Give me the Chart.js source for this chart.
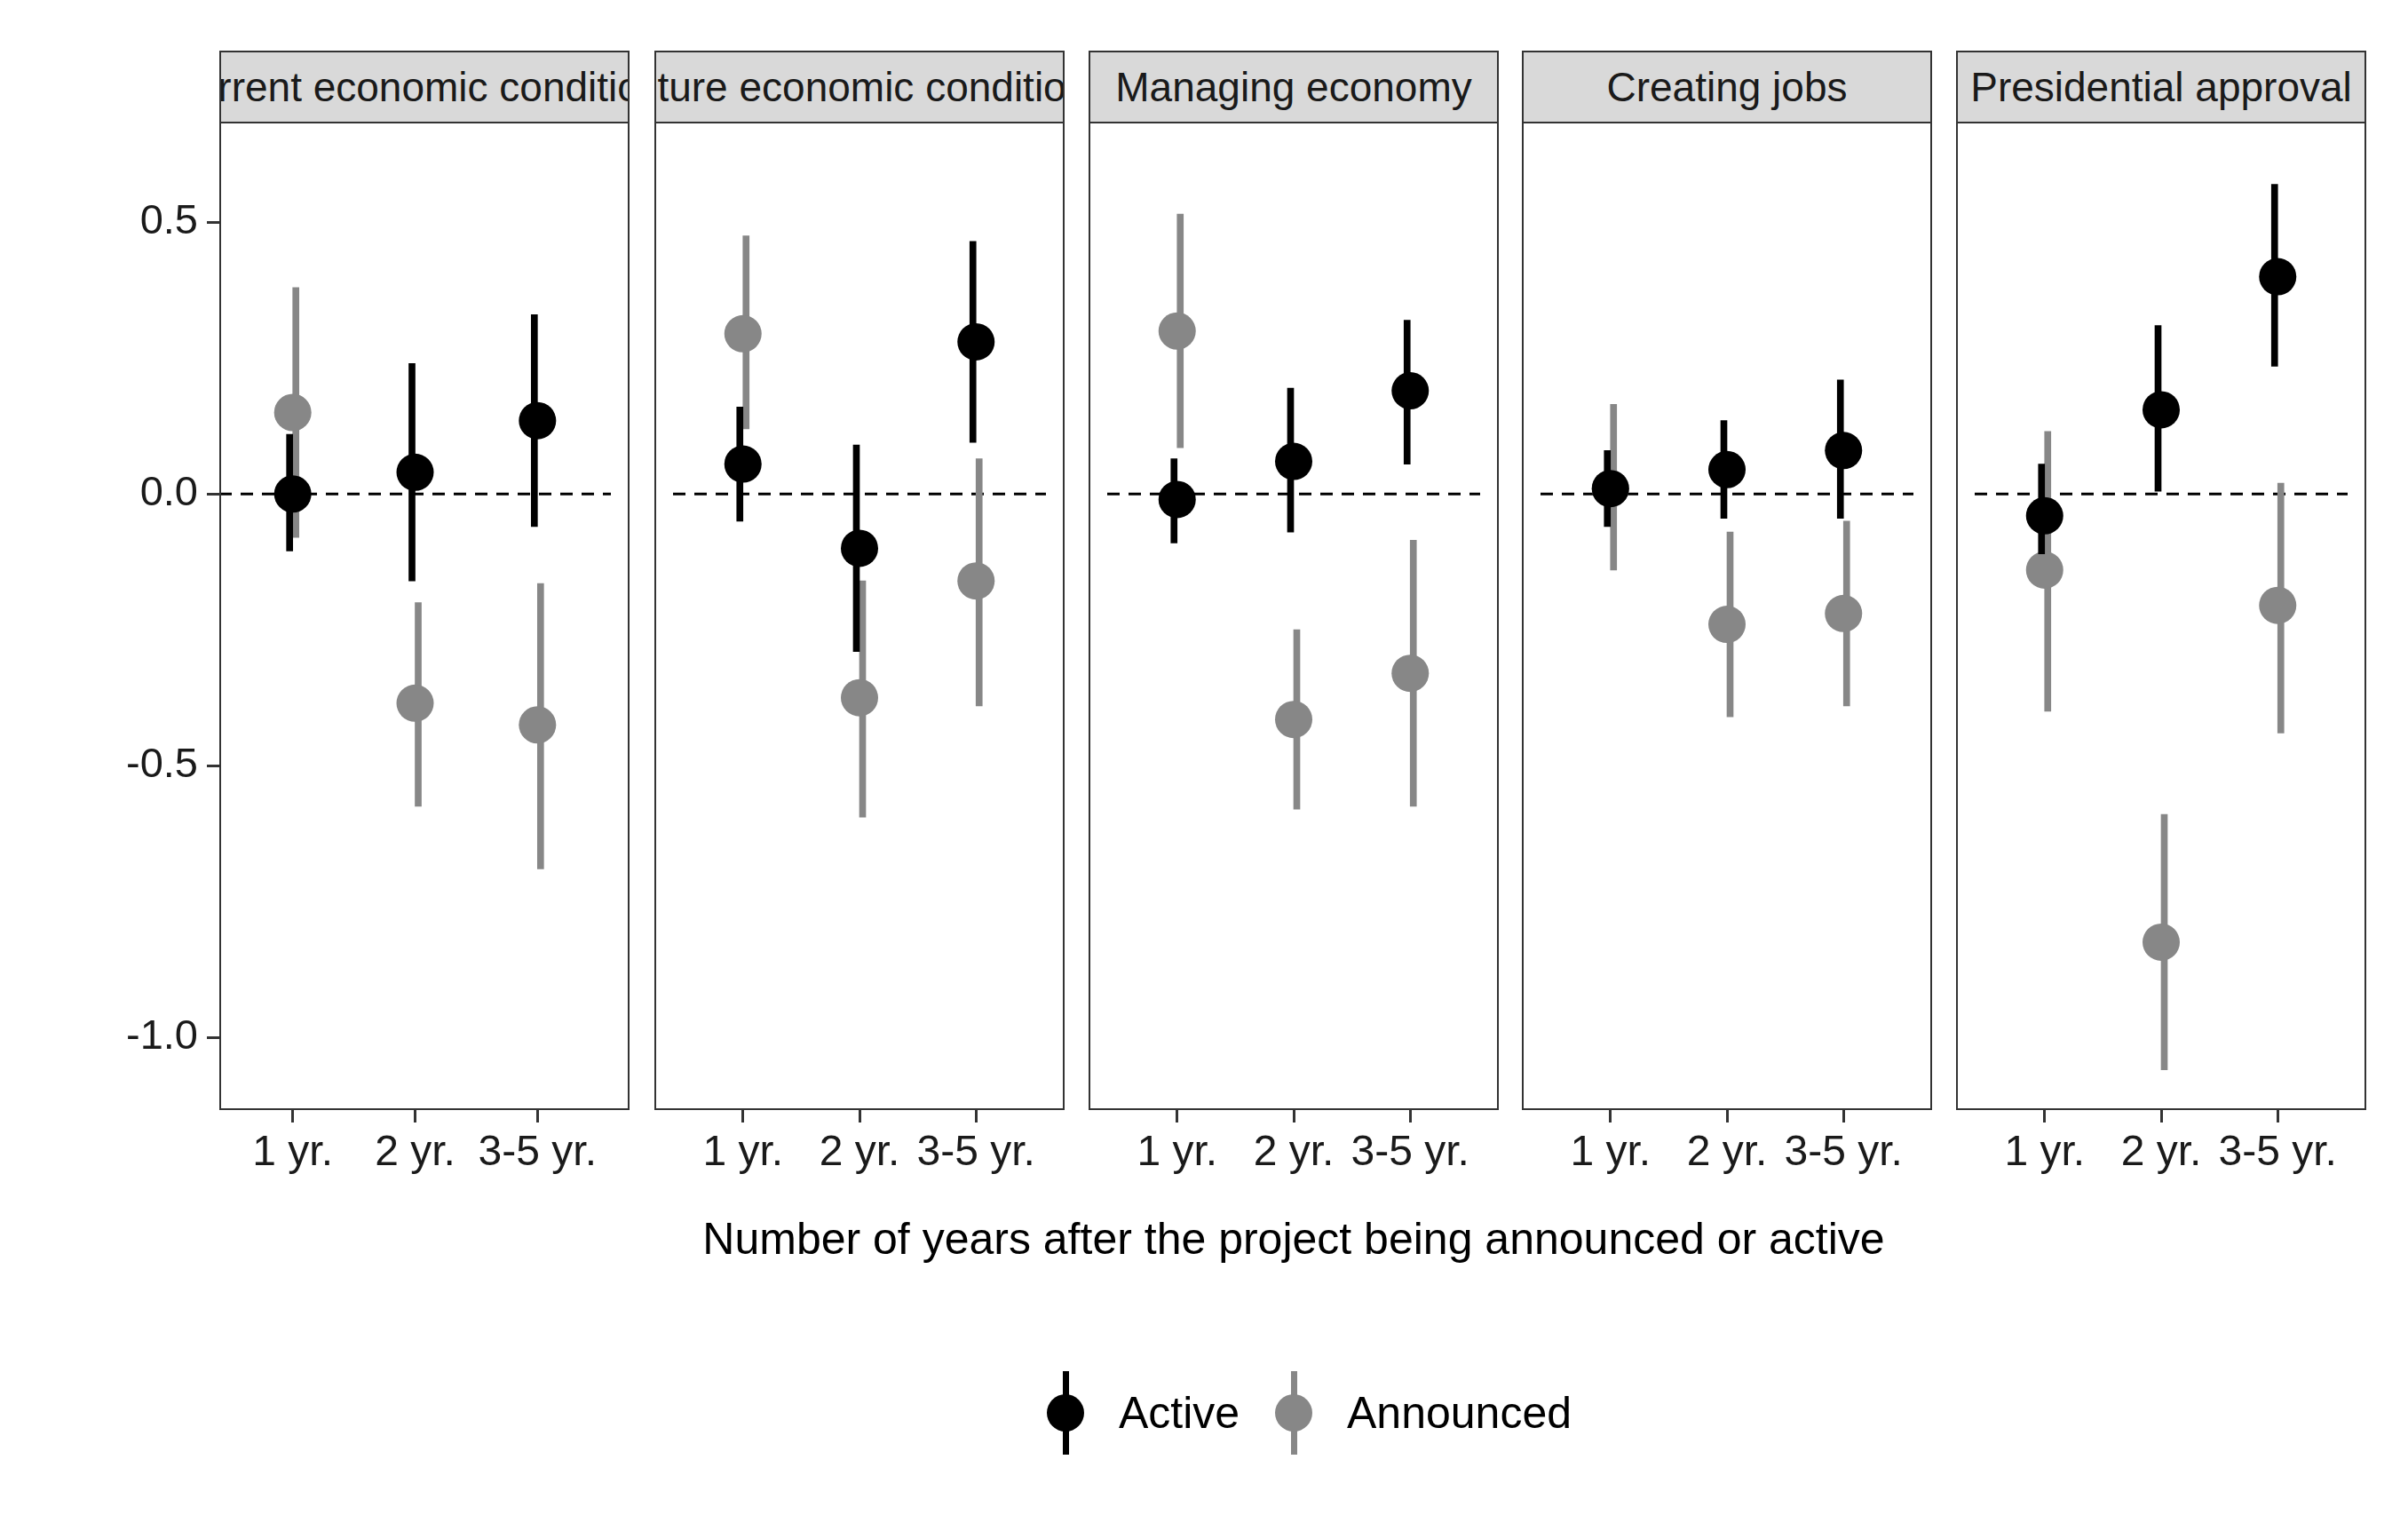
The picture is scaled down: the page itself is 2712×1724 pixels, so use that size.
<!DOCTYPE html>
<html>
<head>
<meta charset="utf-8">
<script src="https://cdn.jsdelivr.net/npm/chart.js@4/dist/chart.umd.min.js"></script>
<style>
  body { margin: 0; background: #fff; font-family: "Liberation Sans", Arial, sans-serif; }
  #page { position: relative; width: 2712px; height: 1724px; overflow: hidden; }
  canvas, .frame, .strip, .txt { position: absolute; }
  .frame { border: 2px solid #333; box-sizing: border-box; pointer-events: none; }
  .strip { background: #d9d9d9; border: 2px solid #333; box-sizing: border-box; overflow: hidden;
           display: flex; justify-content: center; align-items: center; font-size: 46px; color: #1a1a1a; white-space: nowrap; }
  .txt { font-size: 50px; color: #000; white-space: nowrap; line-height: 1; }
</style>
</head>
<body>
<div id="page"></div>
<script>
// panels and categories
const panelTitles = ['Current economic conditions', 'Future economic conditions', 'Managing economy', 'Creating jobs', 'Presidential approval'];
const yearLabels = ['1 yr.', '2 yr.', '3-5 yr.'];
const yTicks = [-1.0, -0.5, 0.0, 0.5];

// estimates and intervals, one row per panel, one column per year group
const activeEst = [[0.00, 0.04, 0.135], [0.055, -0.10, 0.28], [-0.01, 0.06, 0.19], [0.01, 0.045, 0.08], [-0.04, 0.155, 0.40]];
const activeLo  = [[-0.105, -0.16, -0.06], [-0.05, -0.29, 0.095], [-0.09, -0.07, 0.055], [-0.06, -0.045, -0.045], [-0.11, 0.005, 0.235]];
const activeHi  = [[0.11, 0.24, 0.33], [0.16, 0.09, 0.465], [0.065, 0.195, 0.32], [0.08, 0.135, 0.21], [0.055, 0.31, 0.57]];
const annEst = [[0.15, -0.385, -0.425], [0.295, -0.375, -0.16], [0.30, -0.415, -0.33], [0.01, -0.24, -0.22], [-0.14, -0.825, -0.205]];
const annLo  = [[-0.08, -0.575, -0.69], [0.12, -0.595, -0.39], [0.085, -0.58, -0.575], [-0.14, -0.41, -0.39], [-0.40, -1.06, -0.44]];
const annHi  = [[0.38, -0.20, -0.165], [0.475, -0.16, 0.065], [0.515, -0.25, -0.085], [0.165, -0.07, -0.05], [0.115, -0.59, 0.02]];

const ACTIVE = '#000000';
const ANN = '#878787';
const page = document.getElementById('page');

const plotTop = 137, plotH = 1113, panelW = 462, axisW = 247;
const panelLefts = [247, 737, 1226, 1714, 2203];

function add(cls, style, text) {
  const d = document.createElement('div');
  d.className = cls;
  Object.assign(d.style, style);
  if (text) d.textContent = text;
  page.appendChild(d);
  return d;
}

function noPad(s) {
  s.paddingTop = 0; s.paddingBottom = 0; s.paddingLeft = 0; s.paddingRight = 0;
}

panelTitles.forEach((title, p) => {
  const first = p === 0;
  const left = first ? 0 : panelLefts[p];
  const width = first ? axisW + panelW : panelW;
  const cv = document.createElement('canvas');
  cv.width = width; cv.height = plotH + 110;
  cv.style.left = left + 'px'; cv.style.top = plotTop + 'px';
  page.appendChild(cv);

  const pts = (est) => est.map((v, i) => ({ x: i + 1, y: v }));
  const bars = (lo, hi) => lo.map((v, i) => ({ x: i + 1, y: [v, hi[i]] }));

  new Chart(cv, {
    type: 'bar',
    data: {
      datasets: [
        { type: 'line', data: [{ x: 0.4, y: 0 }, { x: 3.6, y: 0 }], borderColor: '#000', borderWidth: 3,
          borderDash: [14, 10], pointRadius: 0, order: 5 },
        { data: bars(annLo[p], annHi[p]), backgroundColor: ANN, barThickness: 7, order: 4 },
        { type: 'line', data: pts(annEst[p]), showLine: false, pointRadius: 21, pointBackgroundColor: ANN,
          pointBorderWidth: 0, order: 3 },
        { data: bars(activeLo[p], activeHi[p]), backgroundColor: ACTIVE, barThickness: 7, order: 2 },
        { type: 'line', data: pts(activeEst[p]), showLine: false, pointRadius: 21, pointBackgroundColor: ACTIVE,
          pointBorderWidth: 0, order: 1 }
      ]
    },
    options: {
      responsive: false, animation: false, devicePixelRatio: 1,
      layout: { padding: 0 },
      plugins: { legend: { display: false }, tooltip: { enabled: false } },
      scales: {
        x: {
          type: 'linear', min: 0.4, max: 3.6, offset: false,
          afterBuildTicks: s => { s.ticks = [1, 2, 3].map(v => ({ value: v })); },
          afterFit: s => { s.height = 110; noPad(s); },
          ticks: { callback: v => yearLabels[v - 1], color: '#1a1a1a', font: { size: 48, family: 'Liberation Sans' }, padding: 6, maxRotation: 0, autoSkip: false },
          grid: { drawOnChartArea: false, offset: false, tickLength: 14, color: '#333', lineWidth: 3 },
          border: { display: false }
        },
        y: {
          display: first, min: -1.134, max: 0.651,
          afterBuildTicks: s => { s.ticks = yTicks.map(v => ({ value: v })); },
          afterFit: s => { if (first) s.width = axisW; noPad(s); },
          ticks: { callback: v => v.toFixed(1), color: '#1a1a1a', font: { size: 47, family: 'Liberation Sans' }, padding: 10 },
          grid: { drawOnChartArea: false, tickLength: 14, color: '#333', lineWidth: 3 },
          border: { display: false }
        }
      }
    }
  });

  add('frame', { left: panelLefts[p] + 'px', top: plotTop + 'px', width: panelW + 'px', height: plotH + 'px' });
  add('strip', { left: panelLefts[p] + 'px', top: '57px', width: panelW + 'px', height: '82px' }, title);
});

// axis title
add('txt', { left: '1457px', top: '1370px', transform: 'translateX(-50%)' }, 'Number of years after the project being announced or active');

// legend
[[1200, ACTIVE, 'Active'], [1457, ANN, 'Announced']].forEach(([cx, col, label]) => {
  add('glyph', { position: 'absolute', left: (cx - 3.5) + 'px', top: '1544px', width: '7px', height: '94px', background: col });
  add('glyph', { position: 'absolute', left: (cx - 21) + 'px', top: '1570px', width: '42px', height: '42px', borderRadius: '50%', background: col });
  add('txt', { left: (cx + 60) + 'px', top: '1566px' }, label);
});
</script>
</body>
</html>
